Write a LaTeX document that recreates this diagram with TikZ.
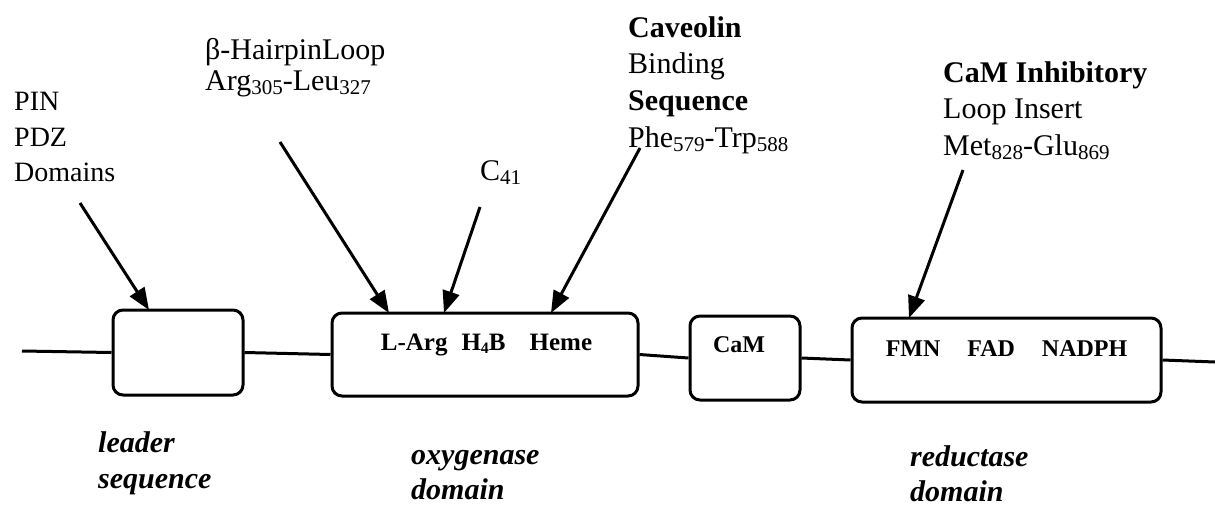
\documentclass[tikz,border=0pt]{standalone}
\usepackage{fontspec}
\setmainfont{Liberation Serif}
\usetikzlibrary{arrows.meta}
\newcommand\mysub[1]{\raisebox{-4pt}{\fontsize{21}{21}\selectfont #1}}
\newcommand\mysubb[1]{\raisebox{-3pt}{\fontsize{16}{16}\selectfont #1}}
\tikzset{
  box/.style={draw, line width=3pt, rounded corners=10pt, inner sep=0pt},
  conn/.style={line width=3pt},
  arr/.style={line width=3pt, -{Triangle[length=22pt,width=17pt]}},
  lbl/.style={anchor=base west, inner sep=0pt, font=\fontsize{30}{36}\selectfont},
  lbls/.style={anchor=base west, inner sep=0pt, font=\fontsize{28}{35}\selectfont},
  inbox/.style={anchor=base, inner sep=0pt, font=\bfseries\fontsize{24}{24}\selectfont},
  dom/.style={anchor=base west, inner sep=0pt, font=\bfseries\itshape\fontsize{30}{35}\selectfont},
}
\begin{document}
\begin{tikzpicture}[x=1pt,y=-1pt]
\useasboundingbox (0,0) rectangle (1215,506);

% domain boxes
\node[box, minimum width=130pt, minimum height=85pt] (b1) at (178,352.5) {};
\node[box, minimum width=306pt, minimum height=83pt] (b2) at (485,354.5) {};
\node[box, minimum width=110pt, minimum height=84pt] (b3) at (745,358) {};
\node[box, minimum width=309pt, minimum height=84pt] (b4) at (1006.5,360) {};

% texts inside boxes
\node[inbox] (t2) at (486.5,350) {\fontsize{25}{25}\selectfont L-Arg\hspace{14pt}H\mysubb{4}B\hspace{24pt}Heme};
\node[inbox] (t3) at (739,352) {CaM};
\node[inbox] (t4) at (1006.5,356) {FMN\hspace{27pt}FAD\hspace{27pt}NADPH};

% backbone
\coordinate (l0) at (22,351);
\coordinate (r0) at (1215,362);
\draw[conn] (l0) -- (b1.west);
\draw[conn] (b1.east) -- (b2.west);
\draw[conn] (b2.east) -- (b3.west);
\draw[conn] (b3.east) -- (b4.west);
\draw[conn] (b4.east) -- (r0);

% top labels
\node[lbls] (pin1) at (14,110) {PIN};
\node[lbls] (pin2) at (14,146) {PDZ};
\node[lbls] (pin3) at (14,181) {Domains};

\node[lbl] (hp1) at (205,59) {β-HairpinLoop};
\node[lbl] (hp2) at (205,90) {Arg\mysub{305}-Leu\mysub{327}};

\node[lbl] (c41) at (480,180) {C\mysub{41}};

\node[lbl] (cav1) at (628,37) {\bfseries Caveolin};
\node[lbl] (cav2) at (628,73) {Binding};
\node[lbl] (cav3) at (628,110) {\bfseries Sequence};
\node[lbl] (cav4) at (628,147) {Phe\mysub{579}-Trp\mysub{588}};

\node[lbl] (cam1) at (943,82) {\bfseries CaM Inhibitory};
\node[lbl] (cam2) at (943,118) {Loop Insert};
\node[lbl] (cam3) at (943,155) {Met\mysub{828}-Glu\mysub{869}};

% arrows
\coordinate (s1) at (80,203);   \coordinate (e1) at (149,310);
\coordinate (s2) at (280,142);  \coordinate (e2) at (389,313);
\coordinate (s3) at (480,207);  \coordinate (e3) at (444,313);
\coordinate (s4) at (640,148);  \coordinate (e4) at (551,313);
\coordinate (s5) at (963,170);  \coordinate (e5) at (909,318);
\draw[arr] (s1) -- (e1);
\draw[arr] (s2) -- (e2);
\draw[arr] (s3) -- (e3);
\draw[arr] (s4) -- (e4);
\draw[arr] (s5) -- (e5);

% domain names
\node[dom] (d1a) at (98,452) {leader};
\node[dom] (d1b) at (98,488) {sequence};
\node[dom] (d2a) at (411,464) {oxygenase};
\node[dom] (d2b) at (411,499) {domain};
\node[dom] (d3a) at (910,466) {reductase};
\node[dom] (d3b) at (910,501) {domain};
\end{tikzpicture}
\end{document}
